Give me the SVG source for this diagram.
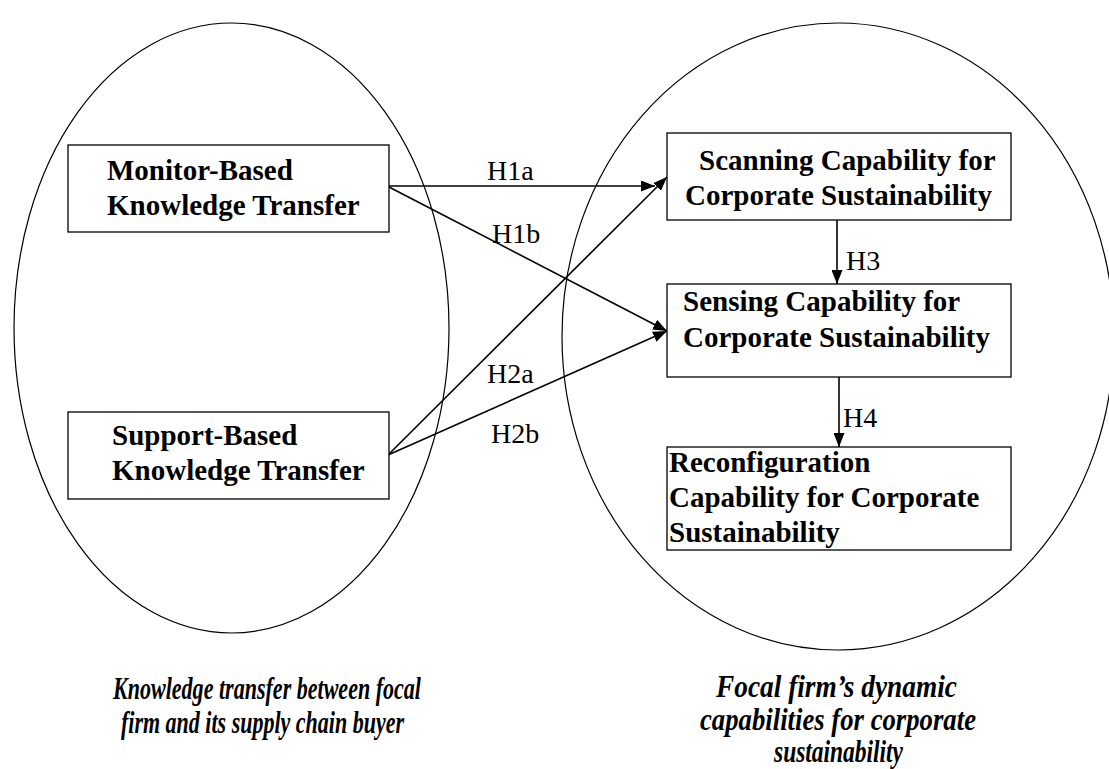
<svg xmlns="http://www.w3.org/2000/svg" width="1109" height="769" viewBox="0 0 1109 769">
  <style>
    .frame { fill: none; stroke: #000; stroke-width: 1.2; }
    .box { fill: #fff; stroke: #000; stroke-width: 1.3; }
    .node-text { font-family: "Liberation Serif", "Times New Roman", serif; font-weight: bold; font-size: 29px; fill: #000; }
    .label { font-family: "Liberation Serif", "Times New Roman", serif; font-size: 28px; fill: #000; }
    .caption { font-family: "Liberation Serif", "Times New Roman", serif; font-weight: bold; font-style: italic; font-size: 31px; fill: #000; }
    .edge { stroke: #000; stroke-width: 1.6; fill: none; marker-end: url(#head); }
  </style>
  <defs>
    <marker id="head" viewBox="0 0 14 11" refX="14" refY="5.5" markerWidth="14" markerHeight="11" markerUnits="userSpaceOnUse" orient="auto">
      <path d="M0,0 L14,5.5 L0,11 Z" fill="#000"/>
    </marker>
  </defs>
  <rect width="1109" height="769" fill="#fff"/>

  <!-- grouping ellipses -->
  <g id="groups">
    <ellipse class="frame" cx="231.5" cy="328" rx="217.5" ry="305"/>
    <ellipse class="frame" cx="838" cy="336.5" rx="276" ry="313.5"/>
  </g>

  <!-- connectors -->
  <g id="connectors">
    <line class="edge" x1="389" y1="186" x2="655" y2="186"/>
    <line class="edge" x1="389" y1="187" x2="667" y2="331"/>
    <line class="edge" x1="388" y1="455" x2="667" y2="177"/>
    <line class="edge" x1="388" y1="455" x2="667" y2="331"/>
    <line class="edge" x1="837" y1="220" x2="837" y2="284"/>
    <line class="edge" x1="839" y1="377" x2="839" y2="447"/>
    <text class="label" x="487" y="180">H1a</text>
    <text class="label" x="492" y="243">H1b</text>
    <text class="label" x="487" y="383">H2a</text>
    <text class="label" x="491" y="443">H2b</text>
    <text class="label" x="846" y="270">H3</text>
    <text class="label" x="843" y="427">H4</text>
  </g>

  <g id="monitor">
    <rect class="box" x="68" y="145" width="321" height="87"/>
    <text class="node-text" x="107" y="180">Monitor-Based</text>
    <text class="node-text" x="107" y="215">Knowledge Transfer</text>
  </g>

  <g id="support">
    <rect class="box" x="68" y="412" width="321" height="87"/>
    <text class="node-text" x="112" y="445">Support-Based</text>
    <text class="node-text" x="112" y="480">Knowledge Transfer</text>
  </g>

  <g id="scanning">
    <rect class="box" x="667" y="133" width="344" height="87"/>
    <text class="node-text" x="699" y="170">Scanning Capability for</text>
    <text class="node-text" x="685" y="205">Corporate Sustainability</text>
  </g>

  <g id="sensing">
    <rect class="box" x="667" y="284" width="344" height="93"/>
    <text class="node-text" x="683" y="311">Sensing Capability for</text>
    <text class="node-text" x="683" y="347">Corporate Sustainability</text>
  </g>

  <g id="reconfiguration">
    <rect class="box" x="667" y="447" width="344" height="103"/>
    <text class="node-text" x="669" y="472">Reconfiguration</text>
    <text class="node-text" x="669" y="507">Capability for Corporate</text>
    <text class="node-text" x="669" y="542">Sustainability</text>
  </g>

  <g id="captions">
    <text class="caption" x="113" y="699" textLength="308" lengthAdjust="spacingAndGlyphs">Knowledge transfer between focal</text>
    <text class="caption" x="121" y="733" textLength="283" lengthAdjust="spacingAndGlyphs">firm and its supply chain buyer</text>
    <text class="caption" x="716" y="697" textLength="241" lengthAdjust="spacingAndGlyphs">Focal firm’s dynamic</text>
    <text class="caption" x="700" y="730" textLength="276" lengthAdjust="spacingAndGlyphs">capabilities for corporate</text>
    <text class="caption" x="774" y="762" textLength="129" lengthAdjust="spacingAndGlyphs">sustainability</text>
  </g>
</svg>
